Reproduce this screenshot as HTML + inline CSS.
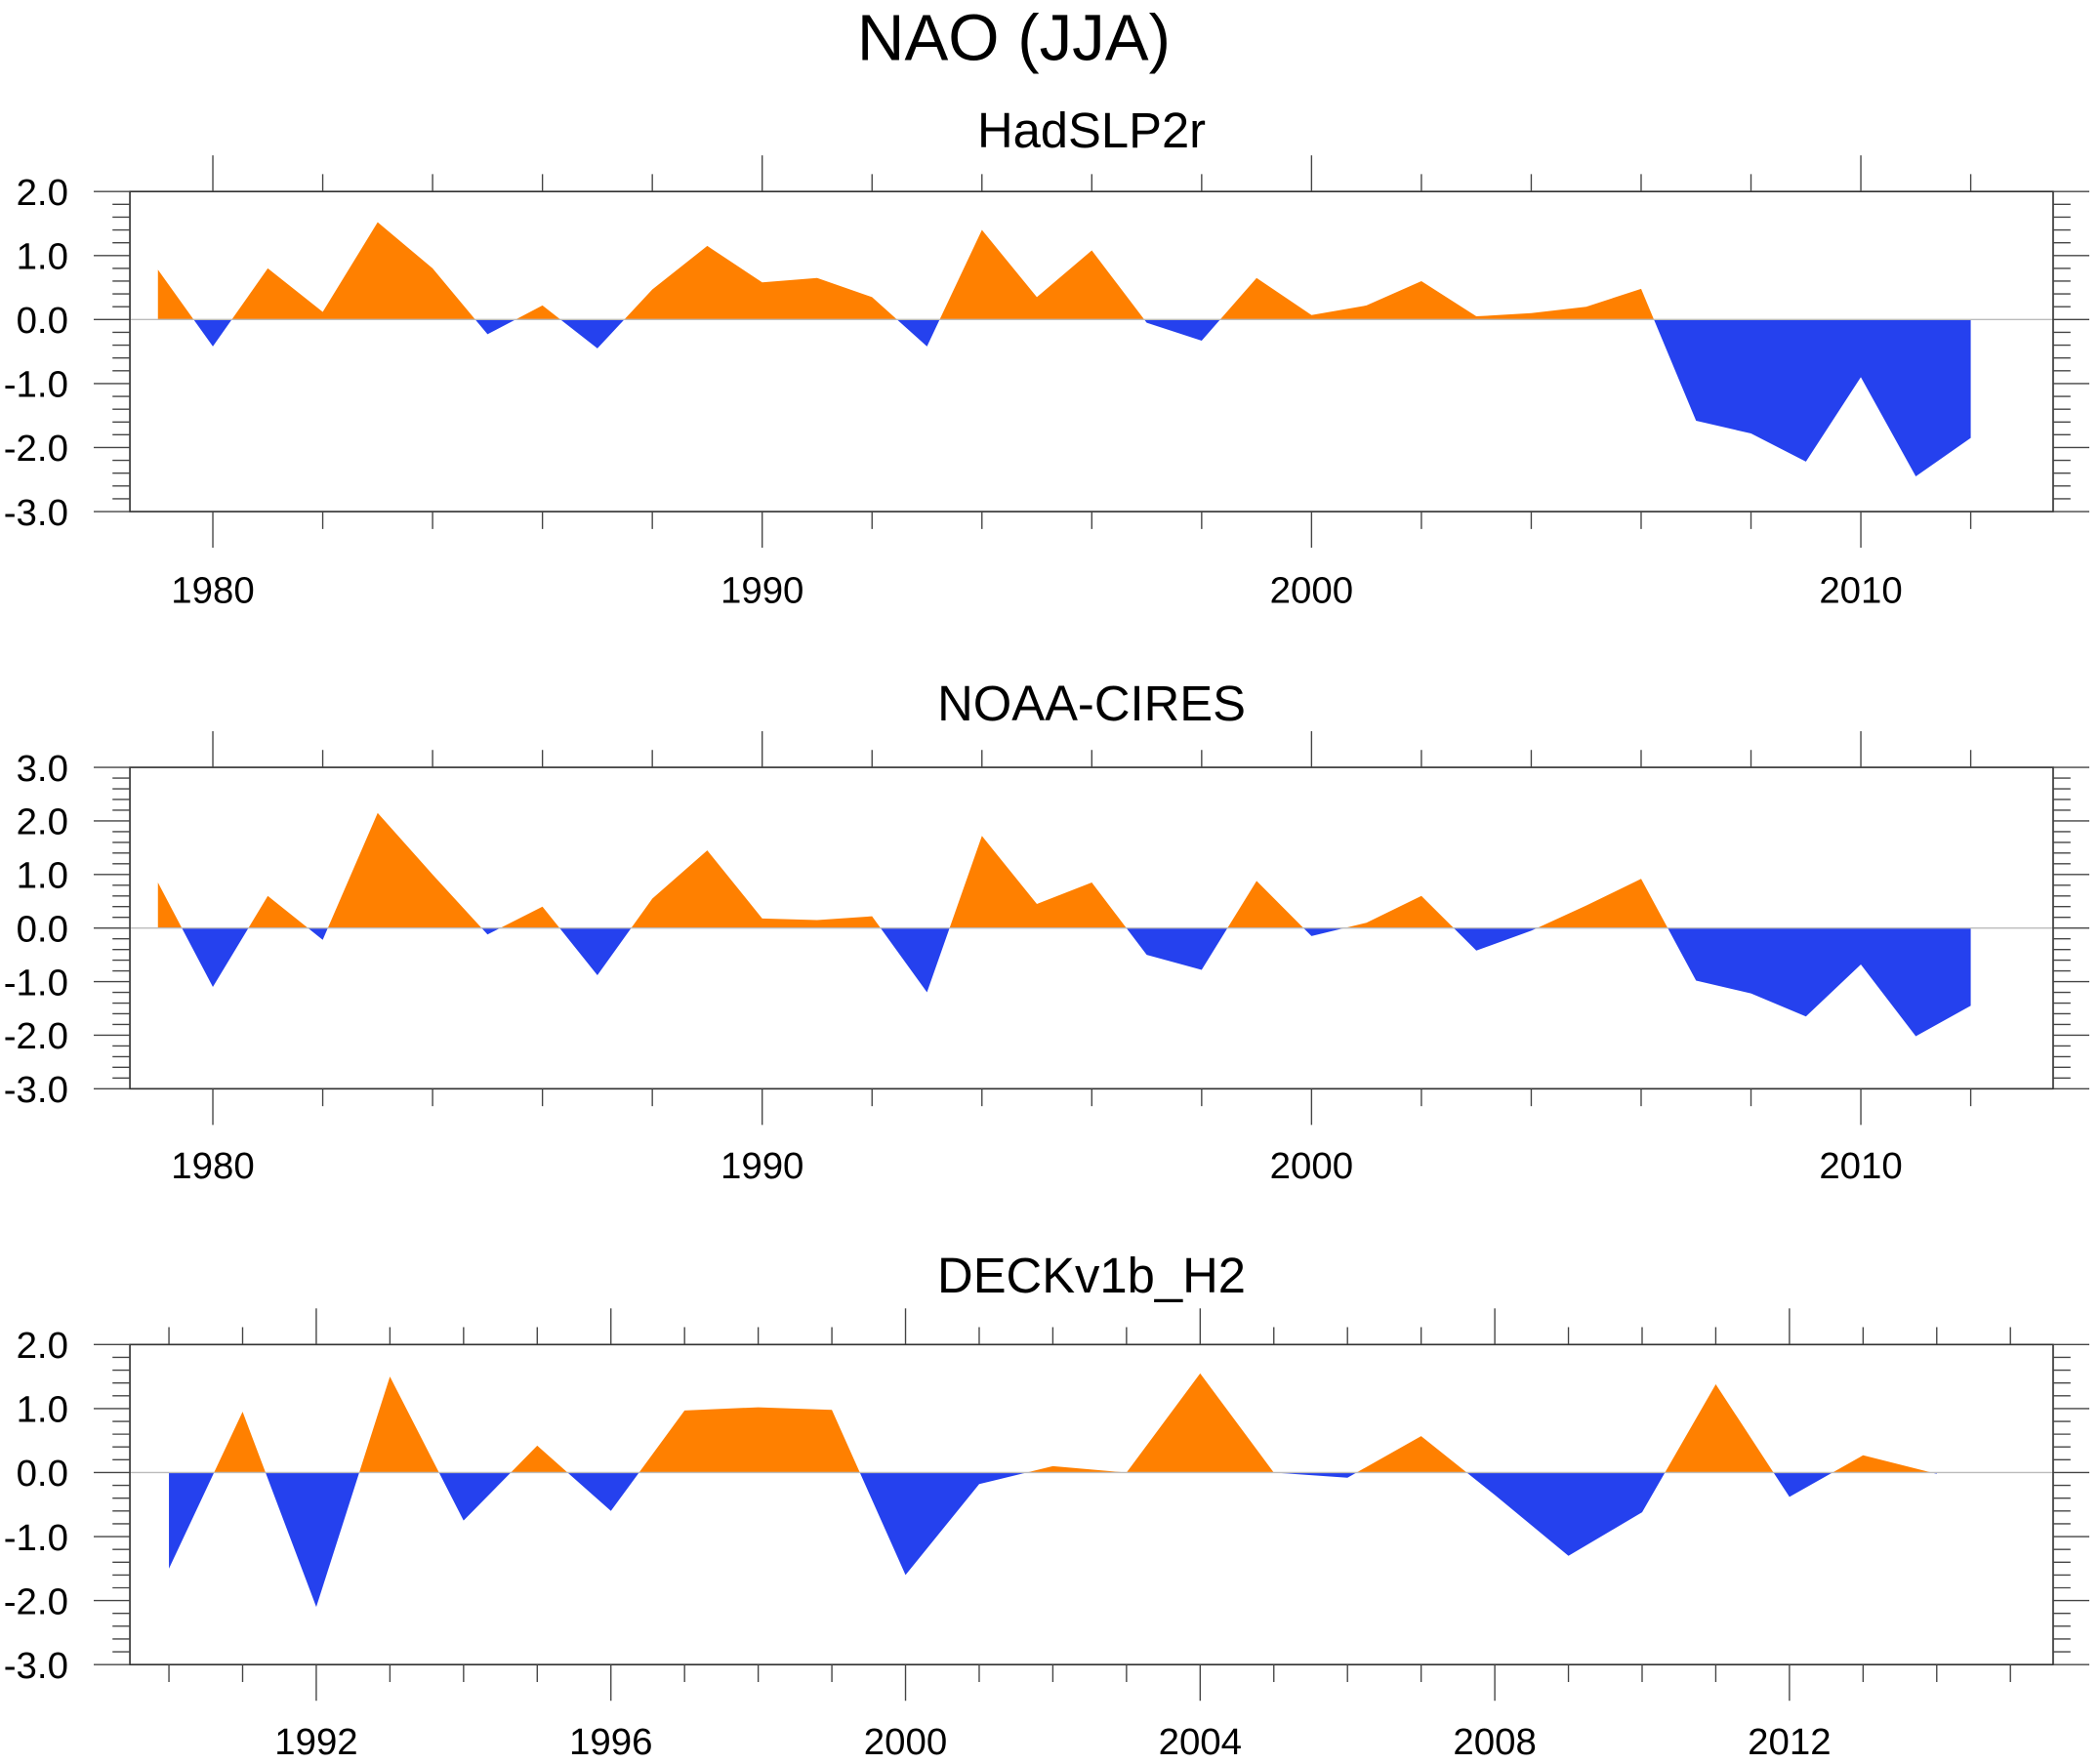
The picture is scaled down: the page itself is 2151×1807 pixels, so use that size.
<!DOCTYPE html>
<html><head><meta charset="utf-8"><style>
html,body{margin:0;padding:0;background:#fff}
svg{display:block}
text{font-family:"Liberation Sans",sans-serif;fill:#000}
</style></head><body>
<svg id="chart" width="2151" height="1807" viewBox="0 0 1568 1317.2" xmlns="http://www.w3.org/2000/svg">
<text x="757" y="45" font-size="49" text-anchor="middle">NAO (JJA)</text>
<g id="panels"></g>
</svg>
<script>
const years1 = [1979,1980,1981,1982,1983,1984,1985,1986,1987,1988,1989,1990,1991,1992,1993,1994,1995,1996,1997,1998,1999,2000,2001,2002,2003,2004,2005,2006,2007,2008,2009,2010,2011,2012];
const hadslp = [0.78,-0.42,0.80,0.12,1.52,0.80,-0.23,0.22,-0.45,0.47,1.15,0.58,0.65,0.35,-0.42,1.40,0.35,1.08,-0.05,-0.33,0.65,0.07,0.22,0.60,0.05,0.10,0.20,0.48,-1.58,-1.78,-2.22,-0.90,-2.45,-1.85];
const noaa = [0.85,-1.10,0.60,-0.22,2.15,1.00,-0.12,0.40,-0.88,0.55,1.45,0.18,0.15,0.22,-1.20,1.72,0.45,0.85,-0.50,-0.78,0.88,-0.15,0.10,0.60,-0.42,-0.05,0.42,0.92,-0.98,-1.22,-1.65,-0.68,-2.02,-1.45];
const years3 = [1990,1991,1992,1993,1994,1995,1996,1997,1998,1999,2000,2001,2002,2003,2004,2005,2006,2007,2008,2009,2010,2011,2012,2013,2014];
const deck = [-1.50,0.95,-2.10,1.50,-0.75,0.42,-0.60,0.97,1.02,0.98,-1.60,-0.18,0.10,0.00,1.55,0.00,-0.08,0.57,-0.35,-1.30,-0.62,1.38,-0.38,0.27,-0.02];
const yTicks1 = [2,1,0,-1,-2,-3];
const yTicks2 = [3,2,1,0,-1,-2,-3];
const xLabels1 = [1980,1990,2000,2010];
const xLabels3 = [1992,1996,2000,2004,2008,2012];

const NS="http://www.w3.org/2000/svg";
const root=document.getElementById('panels');
function mk(tag,attrs,parent){const e=document.createElementNS(NS,tag);for(const k in attrs)e.setAttribute(k,attrs[k]);parent.appendChild(e);return e;}

const panels=[
 {id:'hadslp2r',title:'HadSLP2r',ty:110,top:143,bot:382,ymin:-3,ymax:2,yt:yTicks1,xs:years1,vs:hadslp,x0:1978.49,x1:2013.5,minorStep:2,majors:xLabels1,minStart:1978,minEnd:2013,lblY:450},
 {id:'noaa-cires',title:'NOAA-CIRES',ty:538,top:573,bot:813,ymin:-3,ymax:3,yt:yTicks2,xs:years1,vs:noaa,x0:1978.49,x1:2013.5,minorStep:2,majors:xLabels1,minStart:1978,minEnd:2013,lblY:880},
 {id:'deckv1b-h2',title:'DECKv1b_H2',ty:965,top:1004,bot:1243,ymin:-3,ymax:2,yt:yTicks1,xs:years3,vs:deck,x0:1989.47,x1:2015.58,minorStep:1,majors:xLabels3,minStart:1990,minEnd:2015,lblY:1310}
];
const L=97,R=1533;
panels.forEach((p,pi)=>{
 const g=mk('g',{},root);
 
 
 const sx=v=>L+(v-p.x0)/(p.x1-p.x0)*(R-L);
 const sy=v=>p.top+(p.ymax-v)/(p.ymax-p.ymin)*(p.bot-p.top);
 const t=mk('text',{x:815,y:p.ty,'font-size':37,'text-anchor':'middle'},g);
 t.textContent=p.title;
 
 
 const z=sy(0);
 let d='M'+sx(p.xs[0])+','+z;
 p.xs.forEach((x,i)=>{d+=' L'+sx(x)+','+sy(p.vs[i]);});
 d+=' L'+sx(p.xs[p.xs.length-1])+','+z+' Z';
 const defs=mk('defs',{},g);
 const ca=mk('clipPath',{id:'ca'+pi},defs);mk('rect',{x:L,y:p.top,width:R-L,height:z-p.top},ca);
 const cb=mk('clipPath',{id:'cb'+pi},defs);mk('rect',{x:L,y:z,width:R-L,height:p.bot-z},cb);
 const a=mk('path',{d:d,fill:'#ff8000','clip-path':'url(#ca'+pi+')'},g);
 
 
 const b=mk('path',{d:d,fill:'#2541ee','clip-path':'url(#cb'+pi+')'},g);
 
 
 const zl=mk('line',{x1:L,x2:R,y1:z,y2:z,stroke:'#bbb','stroke-width':1},g);
 
 
 const fr=mk('rect',{x:L,y:p.top,width:R-L,height:p.bot-p.top,fill:'none',stroke:'#333','stroke-width':1.2},g);
 
 
 for(let v=p.ymin;v<=p.ymax+1e-9;v+=0.2){
  const vv=Math.round(v*10)/10, y=sy(vv), maj=Math.abs(vv-Math.round(vv))<1e-6;
  const len=maj?27:13;
  mk('line',{x1:L-len,x2:L,y1:y,y2:y,stroke:'#444','stroke-width':1},g);
  mk('line',{x1:R,x2:R+len,y1:y,y2:y,stroke:'#444','stroke-width':1},g);
 }
 p.yt.forEach(v=>{
  const tl=mk('text',{x:51,y:sy(v)+10,'font-size':28,'text-anchor':'end'},g);
  tl.textContent=v.toFixed(1);
  
  
 });
 for(let yr=p.minStart;yr<=p.minEnd;yr+=p.minorStep){
  const x=sx(yr), maj=p.majors.includes(yr);
  if(x<L||x>R) continue;
  const len=maj?27:13;
  mk('line',{x1:x,x2:x,y1:p.top-len,y2:p.top,stroke:'#444','stroke-width':1},g);
  mk('line',{x1:x,x2:x,y1:p.bot,y2:p.bot+len,stroke:'#444','stroke-width':1},g);
 }
 p.majors.forEach(yr=>{
  const tl=mk('text',{x:sx(yr),y:p.lblY,'font-size':28,'text-anchor':'middle'},g);
  tl.textContent=yr;
  
  
 });
});
</script>
</body></html>
